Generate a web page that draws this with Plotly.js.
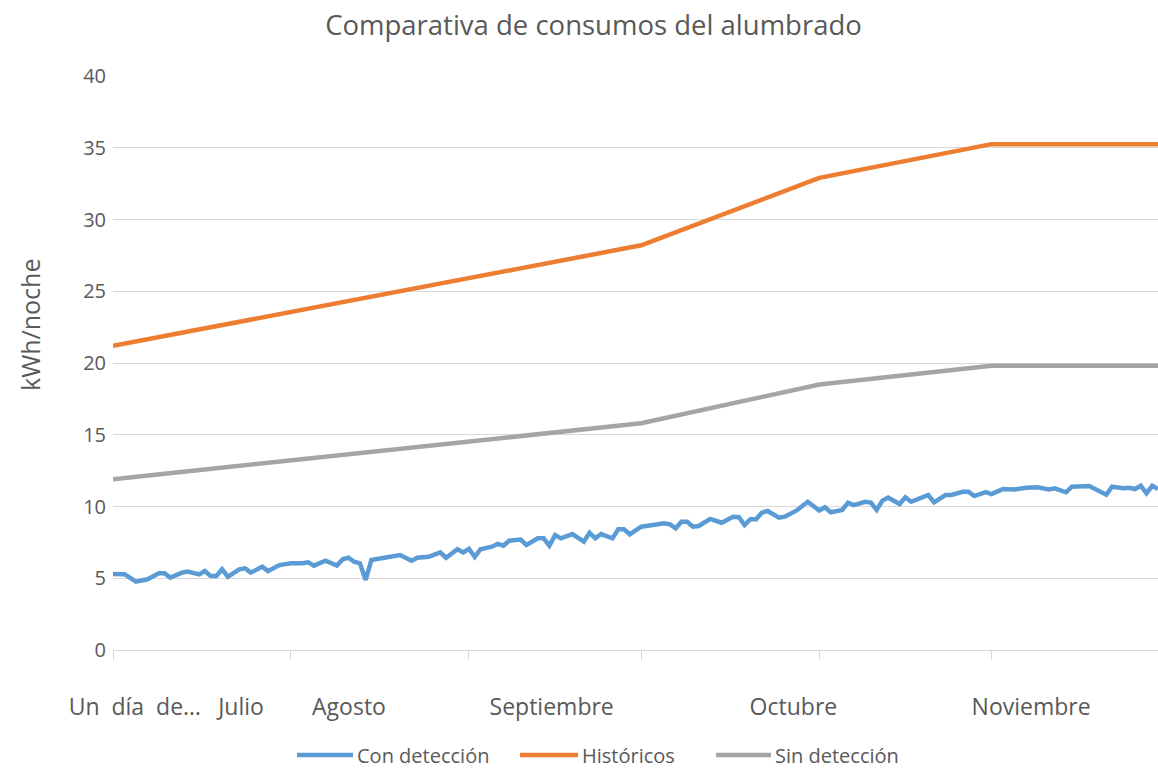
<!DOCTYPE html>
<html>
<head>
<meta charset="utf-8">
<script src="https://cdn.plot.ly/plotly-3.0.1.min.js"></script>
<style>
  html, body { margin: 0; padding: 0; background: #ffffff; }
  #chart { width: 1158px; height: 769px; }
</style>
</head>
<body>
<div id="chart"></div>
<script>
// ---- Data (x = day index from the first night of July) ----
const conDays = [0,2,4,6,8,9,10,12,13,15,16,17,18,19,20,22,23,24,26,27,29,30,31,33,34,35,37,39,40,41,42,43,44,45,46,48,50,52,53,55,57,58,60,61,62,63,64,66,67,68,69,71,72,74,75,76,77,78,80,82,83,84,85,87,88,89,90,92,94,96,97,98,99,100,101,102,104,106,108,109,110,111,112,113,114,116,117,119,121,123,124,125,127,128,129,131,132,133,134,135,137,138,139,142,143,145,146,148,149,150,152,153,155,157,159,161,163,164,166,167,170,172,173,174,176,177,178,179,180,181,182];
const conVals = [5.30,5.28,4.76,4.93,5.34,5.34,5.04,5.39,5.46,5.27,5.50,5.16,5.16,5.62,5.11,5.62,5.69,5.39,5.81,5.50,5.92,5.97,6.04,6.04,6.11,5.88,6.22,5.88,6.32,6.43,6.15,6.04,4.88,6.27,6.34,6.43,6.62,6.22,6.43,6.50,6.81,6.43,7.02,6.80,7.05,6.48,7.02,7.20,7.39,7.27,7.62,7.70,7.32,7.78,7.78,7.27,8.01,7.78,8.08,7.55,8.17,7.78,8.08,7.78,8.41,8.41,8.06,8.59,8.71,8.83,8.76,8.48,8.94,8.94,8.59,8.64,9.13,8.87,9.29,9.25,8.71,9.11,9.11,9.57,9.69,9.22,9.29,9.71,10.33,9.72,9.95,9.60,9.76,10.27,10.10,10.33,10.27,9.76,10.41,10.62,10.17,10.64,10.33,10.80,10.29,10.80,10.80,11.03,11.03,10.73,11.00,10.86,11.22,11.19,11.31,11.34,11.19,11.27,10.99,11.38,11.43,11.08,10.82,11.38,11.27,11.31,11.22,11.45,10.92,11.45,11.22];

const monthDays = [0,31,62,92,123,153,182];
const historicosVals = [21.2,23.55,25.9,28.2,32.9,35.25,35.25];
const sinDetVals = [11.9,13.2,14.5,15.8,18.5,19.8,19.8];

const tickLabels = ["Un  día  de…","Julio","Agosto","Septiembre","Octubre","Noviembre"];
const tickLabelDays = [3.8,22.3,41.1,76.4,118.5,159.9];
const yTickVals = [0,5,10,15,20,25,30,35,40];

const seriesNames = ["Con detección","Históricos","Sin detección"];
const colors = ["#5B9BD5","#ED7D31","#A5A5A5"];

const font = "'Open Sans', 'Noto Sans', sans-serif";
const textColor = "#595959";

// plot-area geometry in pixels (for converting legend placement)
const W = 1158, H = 769, L = 113, R = 0, T = 76, B = 119;
const pw = W - L - R, ph = H - T - B;
const px2x = p => (p - L) / pw;
const py2y = p => (H - B - p) / ph;

const lineW = 4.5;
const traces = [
  {x: conDays, y: conVals, name: seriesNames[0], type: "scatter", mode: "lines",
   line: {color: colors[0], width: lineW}, xaxis: "x", yaxis: "y"},
  {x: monthDays, y: historicosVals, name: seriesNames[1], type: "scatter", mode: "lines",
   line: {color: colors[1], width: lineW}, xaxis: "x", yaxis: "y"},
  {x: monthDays, y: sinDetVals, name: seriesNames[2], type: "scatter", mode: "lines",
   line: {color: colors[2], width: lineW}, xaxis: "x", yaxis: "y"},
  // empty trace so the overlaid tick-mark axis is drawn
  {x: [0], y: [null], xaxis: "x2", yaxis: "y", showlegend: false, hoverinfo: "skip", type: "scatter", mode: "lines"}
];

// custom legend (longer line samples, like the original)
const legendLineStart = [297, 520, 716];
const legendLineEnd = [353, 578, 771];
const legendY = 755;
const shapes = [], annotations = [];
seriesNames.forEach((n, i) => {
  shapes.push({type: "line", xref: "paper", yref: "paper",
    x0: px2x(legendLineStart[i]), x1: px2x(legendLineEnd[i]), y0: py2y(legendY), y1: py2y(legendY),
    line: {color: colors[i], width: lineW}});
  annotations.push({text: n, xref: "paper", yref: "paper", x: px2x(legendLineEnd[i] + 3), y: py2y(legendY),
    xanchor: "left", yanchor: "middle", showarrow: false, borderpad: 0, font: {size: 20, color: textColor}});
});
annotations.push({text: "kWh/noche", xref: "paper", yref: "paper", x: px2x(30), y: py2y(325),
  textangle: -90, showarrow: false, font: {size: 25, color: textColor}, xanchor: "center", yanchor: "middle"});

const layout = {
  width: W, height: H,
  paper_bgcolor: "#ffffff", plot_bgcolor: "#ffffff",
  margin: {l: L, r: R, t: T, b: B, pad: 0},
  font: {family: font, color: textColor},
  title: {text: "Comparativa de consumos del alumbrado", font: {size: 27.5, color: textColor, family: font},
          xref: "container", yref: "container", x: 593.5/W, xanchor: "center", y: 1 - 25/H, yanchor: "middle"},
  xaxis: {range: [0, 182], tickmode: "array", tickvals: tickLabelDays, ticktext: tickLabels, automargin: false,
          ticks: "", showgrid: false, zeroline: false, showline: false,
          tickfont: {size: 23, color: textColor}, ticklabelstandoff: 41},
  xaxis2: {range: [0, 182], overlaying: "x", anchor: "y", side: "bottom", tickmode: "array", automargin: false,
           tickvals: monthDays, showticklabels: false, ticks: "outside", ticklen: 9, tickcolor: "#D9D9D9",
           tickwidth: 1, showline: true, linecolor: "#D9D9D9", linewidth: 1, showgrid: false, zeroline: false},
  yaxis: {range: [0, 40], tickmode: "array", tickvals: yTickVals, showgrid: true, gridcolor: "#D9D9D9", automargin: false,
          gridwidth: 1, zeroline: false, showline: false, ticks: "", ticklabelstandoff: 6,
          tickfont: {size: 20, color: textColor}},
  shapes: shapes,
  annotations: annotations,
  showlegend: false
};

Plotly.newPlot("chart", traces, layout, {displayModeBar: false, staticPlot: true});
</script>
</body>
</html>
